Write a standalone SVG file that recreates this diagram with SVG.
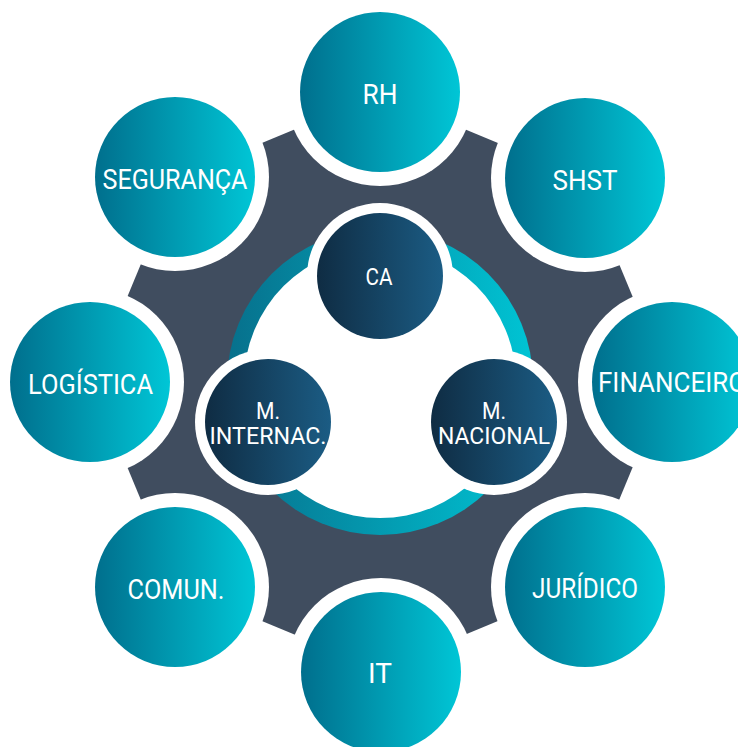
<svg xmlns="http://www.w3.org/2000/svg" width="738" height="747" viewBox="0 0 738 747">
<defs>
<linearGradient id="gTeal" x1="0" y1="0" x2="1" y2="0"><stop offset="0" stop-color="#006f8d"/><stop offset="1" stop-color="#00c6d6"/></linearGradient>
<linearGradient id="gRing" x1="0" y1="0" x2="1" y2="0"><stop offset="0" stop-color="#07708c"/><stop offset="1" stop-color="#00c4d4"/></linearGradient>
<linearGradient id="gNavy" x1="0" y1="0" x2="1" y2="0"><stop offset="0" stop-color="#0f2c43"/><stop offset="1" stop-color="#1b5c84"/></linearGradient>
<style>
.halo{fill:#ffffff}
.outer{fill:url(#gTeal)}
.inner{fill:url(#gNavy)}
.lbl{fill:#ffffff;font-family:Roboto,"Open Sans","DejaVu Sans",sans-serif;font-size:28px;text-anchor:middle}
.lbs{fill:#ffffff;font-family:Roboto,"Open Sans","DejaVu Sans",sans-serif;font-size:24px;text-anchor:middle}
</style>
</defs>
<rect width="738" height="747" fill="#ffffff"/>
<g id="gear">
<polygon fill="#404d5f" points="380,94 583.6,178.4 668,382 583.6,585.6 380,670 176.4,585.6 92,382 176.4,178.4"/>
</g>
<g id="ring">
<circle cx="380" cy="382" r="153" fill="url(#gRing)"/>
<circle cx="380" cy="382" r="136" fill="#ffffff"/>
</g>
<g id="connectors"></g>
<g id="node-rh"><circle class="halo" cx="380" cy="92" r="94"/><circle class="outer" cx="380" cy="92" r="80"/><text class="lbl" x="380" y="104" textLength="35" lengthAdjust="spacingAndGlyphs">RH</text></g>
<g id="node-shst"><circle class="halo" cx="585" cy="178" r="94"/><circle class="outer" cx="585" cy="178" r="80"/><text class="lbl" x="585" y="190" textLength="65" lengthAdjust="spacingAndGlyphs">SHST</text></g>
<g id="node-financeiro"><circle class="halo" cx="672" cy="382" r="94"/><circle class="outer" cx="672" cy="382" r="80"/><text class="lbl" x="672" y="392" textLength="148" lengthAdjust="spacingAndGlyphs">FINANCEIRO</text></g>
<g id="node-juridico"><circle class="halo" cx="585" cy="587" r="94"/><circle class="outer" cx="585" cy="587" r="80"/><text class="lbl" x="585" y="598" textLength="106" lengthAdjust="spacingAndGlyphs">JURÍDICO</text></g>
<g id="node-it"><circle class="halo" cx="381" cy="672" r="94"/><circle class="outer" cx="381" cy="672" r="80"/><text class="lbl" x="380" y="683">IT</text></g>
<g id="node-comun"><circle class="halo" cx="175" cy="587" r="94"/><circle class="outer" cx="175" cy="587" r="80"/><text class="lbl" x="176" y="599" textLength="97" lengthAdjust="spacingAndGlyphs">COMUN.</text></g>
<g id="node-logistica"><circle class="halo" cx="90" cy="382" r="94"/><circle class="outer" cx="90" cy="382" r="80"/><text class="lbl" x="90.5" y="394" textLength="125" lengthAdjust="spacingAndGlyphs">LOGÍSTICA</text></g>
<g id="node-seguranca"><circle class="halo" cx="175" cy="177" r="94"/><circle class="outer" cx="175" cy="177" r="80"/><text class="lbl" x="175" y="189" textLength="145" lengthAdjust="spacingAndGlyphs">SEGURANÇA</text></g>
<g id="node-ca"><circle class="halo" cx="380" cy="276" r="73"/><circle class="inner" cx="380" cy="276" r="63"/><text class="lbs" x="379" y="285" textLength="27" lengthAdjust="spacingAndGlyphs">CA</text></g>
<g id="node-internac"><circle class="halo" cx="268" cy="422" r="73"/><circle class="inner" cx="268" cy="422" r="63"/><text class="lbs" x="268" y="419" textLength="24" lengthAdjust="spacingAndGlyphs">M.</text><text class="lbs" x="268" y="444" textLength="117" lengthAdjust="spacingAndGlyphs">INTERNAC.</text></g>
<g id="node-nacional"><circle class="halo" cx="494" cy="422" r="73"/><circle class="inner" cx="494" cy="422" r="63"/><text class="lbs" x="494" y="419" textLength="24" lengthAdjust="spacingAndGlyphs">M.</text><text class="lbs" x="494" y="444" textLength="112" lengthAdjust="spacingAndGlyphs">NACIONAL</text></g>
</svg>
